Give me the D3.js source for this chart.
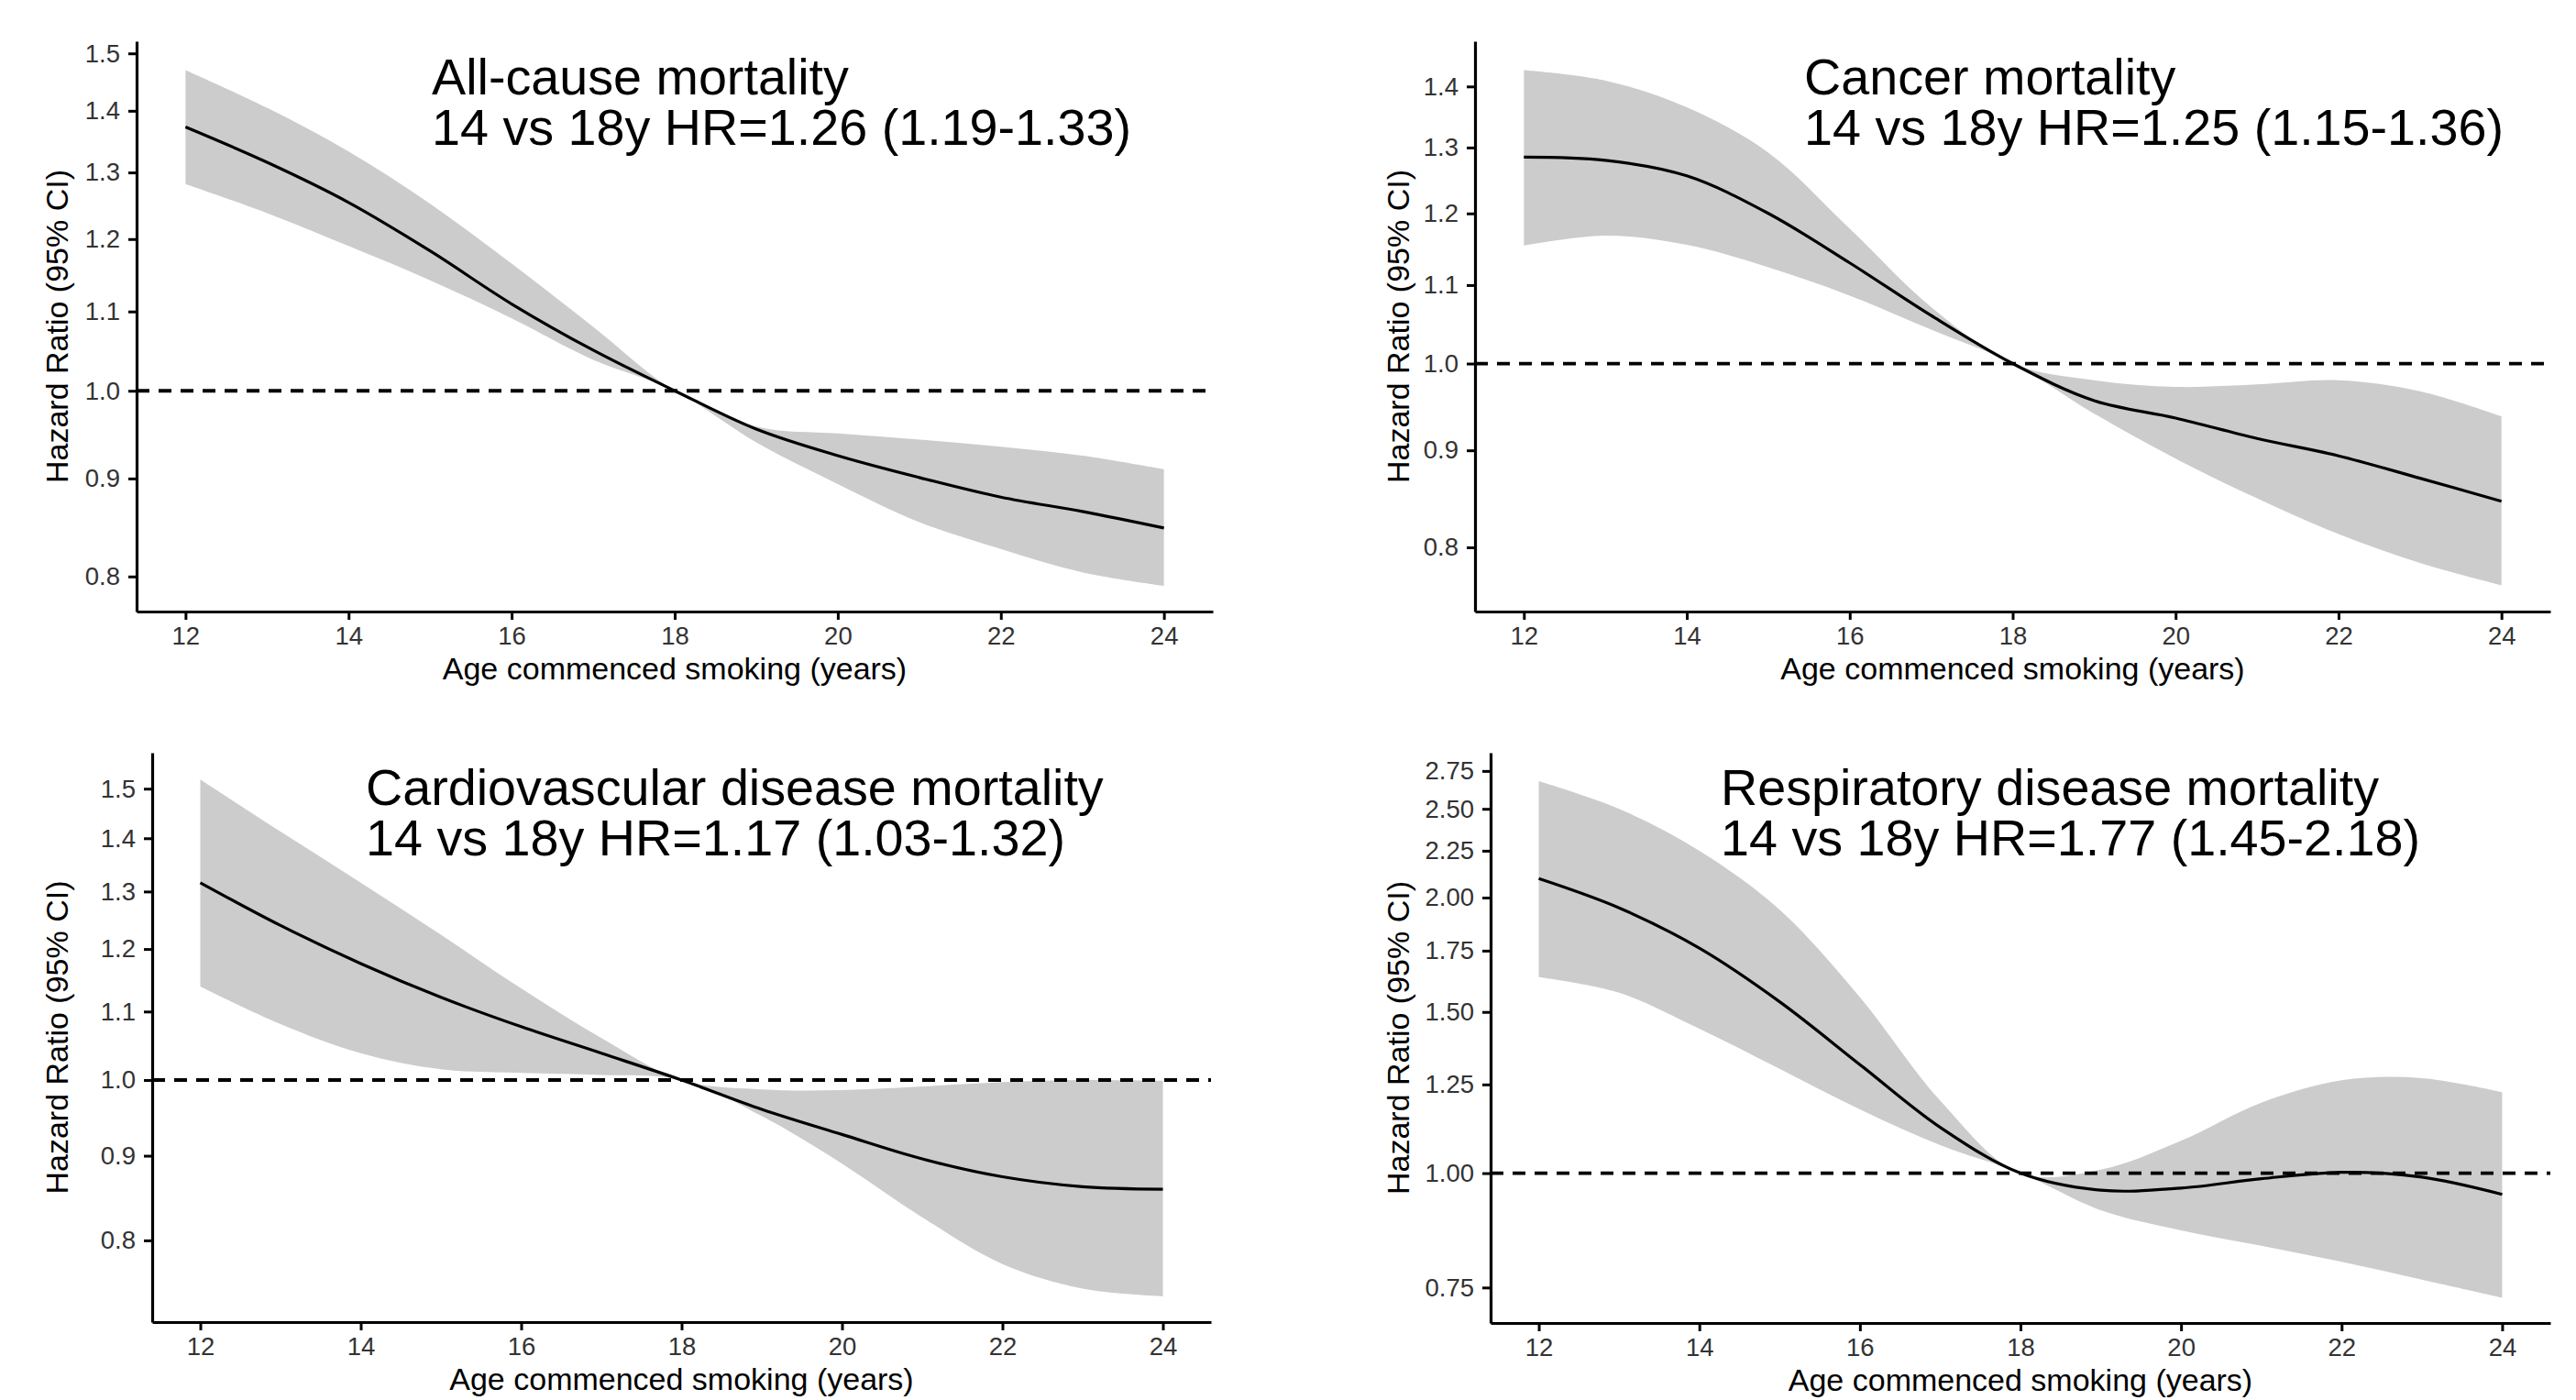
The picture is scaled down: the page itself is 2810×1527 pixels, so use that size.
<!DOCTYPE html>
<html>
<head>
<meta charset="utf-8">
<script src="https://cdn.jsdelivr.net/npm/d3@7"></script>
<style>
  body { margin: 0; background: #fff; }
  text { font-family: "Liberation Sans", Arial, sans-serif; }
</style>
</head>
<body>
<svg width="2810" height="1527"></svg>
<script>
// ages on the x axis
var ages = [12, 13, 14, 15, 16, 17, 18, 19, 20, 21, 22, 23, 24];
var xTicks = [12, 14, 16, 18, 20, 22, 24];

// all-cause mortality
var allMean  = [1.373, 1.316, 1.254, 1.183, 1.110, 1.050, 1.0, 0.955, 0.925, 0.901, 0.880, 0.865, 0.848];
var allUpper = [1.470, 1.405, 1.333, 1.252, 1.165, 1.080, 1.0, 0.958, 0.950, 0.943, 0.935, 0.925, 0.910];
var allLower = [1.282, 1.238, 1.190, 1.142, 1.091, 1.038, 1.0, 0.940, 0.894, 0.854, 0.827, 0.804, 0.791];

// cancer mortality
var canMean  = [1.285, 1.280, 1.256, 1.200, 1.130, 1.060, 1.0, 0.956, 0.936, 0.913, 0.894, 0.870, 0.846];
var canUpper = [1.428, 1.410, 1.365, 1.292, 1.178, 1.071, 1.0, 0.980, 0.972, 0.975, 0.980, 0.967, 0.938];
var canLower = [1.154, 1.168, 1.155, 1.124, 1.086, 1.042, 1.0, 0.941, 0.891, 0.849, 0.813, 0.785, 0.764];

// cardiovascular disease mortality
var cvdMean  = [1.316, 1.240, 1.176, 1.122, 1.077, 1.038, 1.0, 0.960, 0.927, 0.896, 0.874, 0.862, 0.859];
var cvdUpper = [1.519, 1.413, 1.316, 1.224, 1.136, 1.060, 1.0, 0.987, 0.986, 0.991, 0.997, 1.000, 0.999];
var cvdLower = [1.139, 1.081, 1.038, 1.015, 1.010, 1.007, 1.0, 0.951, 0.890, 0.826, 0.774, 0.748, 0.740];

// respiratory disease mortality
var resMean  = [2.098, 1.949, 1.761, 1.539, 1.314, 1.122, 1.0, 0.958, 0.963, 0.986, 1.002, 0.990, 0.948];
var resUpper = [2.680, 2.500, 2.250, 1.940, 1.556, 1.200, 1.0, 1.009, 1.085, 1.194, 1.263, 1.270, 1.226];
var resLower = [1.637, 1.574, 1.438, 1.300, 1.174, 1.073, 1.0, 0.911, 0.866, 0.833, 0.800, 0.765, 0.731];

var titles = ["All-cause mortality", "Cancer mortality",
              "Cardiovascular disease mortality", "Respiratory disease mortality"];
var hrLabels = ["14 vs 18y HR=1.26 (1.19-1.33)", "14 vs 18y HR=1.25 (1.15-1.36)",
                "14 vs 18y HR=1.17 (1.03-1.32)", "14 vs 18y HR=1.77 (1.45-2.18)"];

var yTicks1 = [0.8, 0.9, 1.0, 1.1, 1.2, 1.3, 1.4, 1.5];
var yTicks2 = [0.8, 0.9, 1.0, 1.1, 1.2, 1.3, 1.4];
var yTicks3 = [0.8, 0.9, 1.0, 1.1, 1.2, 1.3, 1.4, 1.5];
var yTicks4 = [0.75, 1.00, 1.25, 1.50, 1.75, 2.00, 2.25, 2.50, 2.75];

var yDomain1 = [0.767, 1.522];
var yDomain2 = [0.740, 1.479];
var yDomain3 = [0.714, 1.577];
var yDomain4 = [0.686, 2.879];

var svg = d3.select("svg");

// panel boxes (pixels)
var panels = [
  { mean: allMean, up: allUpper, lo: allLower, ticks: yTicks1, dom: yDomain1, fmt: ".1f",
    l: 149, r: 1323, t: 45, b: 667, ytx: 74, tx: 471, ty: 103 },
  { mean: canMean, up: canUpper, lo: canLower, ticks: yTicks2, dom: yDomain2, fmt: ".1f",
    l: 1609, r: 2782, t: 45, b: 667, ytx: 1537, tx: 1968, ty: 103 },
  { mean: cvdMean, up: cvdUpper, lo: cvdLower, ticks: yTicks3, dom: yDomain3, fmt: ".1f",
    l: 166, r: 1321, t: 821, b: 1442, ytx: 74, tx: 399, ty: 878 },
  { mean: resMean, up: resUpper, lo: resLower, ticks: yTicks4, dom: yDomain4, fmt: ".2f",
    l: 1626, r: 2782, t: 821, b: 1443, ytx: 1537, tx: 1877, ty: 878 }
];

panels.forEach(function (p, i) {
    var x = d3.scaleLinear().domain([11.4, 24.6]).range([p.l, p.r]);
    var y = d3.scaleLog().domain(p.dom).range([p.b, p.t]);

    var rows = ages.map(function (a, k) {
        return { age: a, m: p.mean[k], u: p.up[k], lo: p.lo[k] };
    });

    var g = svg.append("g");

    // confidence band
    g.append("path")
        .datum(rows)
        .attr("d", d3.area()
            .x(function (d) { return x(d.age); })
            .y0(function (d) { return y(d.lo); })
            .y1(function (d) { return y(d.u); })
            .curve(d3.curveCatmullRom))
        .style("fill", "#cccccc")
        .style("stroke", "none");

    // reference line at HR = 1
    g.append("line")
        .attr("x1", p.l).attr("x2", p.r)
        .attr("y1", y(1)).attr("y2", y(1))
        .style("stroke", "#000")
        .style("stroke-width", 3.8)
        .style("stroke-dasharray", "14,10");

    // fitted curve
    g.append("path")
        .datum(rows)
        .attr("d", d3.line()
            .x(function (d) { return x(d.age); })
            .y(function (d) { return y(d.m); })
            .curve(d3.curveCatmullRom))
        .style("fill", "none")
        .style("stroke", "#000")
        .style("stroke-width", 3.2);

    // axes
    var ya = g.append("g")
        .attr("transform", "translate(" + p.l + ",0)")
        .call(d3.axisLeft(y).tickValues(p.ticks).tickFormat(d3.format(p.fmt))
            .tickSize(9).tickSizeOuter(0).tickPadding(9));
    var xa = g.append("g")
        .attr("transform", "translate(0," + p.b + ")")
        .call(d3.axisBottom(x).tickValues(xTicks).tickFormat(d3.format("d"))
            .tickSize(9).tickSizeOuter(0).tickPadding(7));

    [ya, xa].forEach(function (a) {
        a.select(".domain").style("stroke", "#000").style("stroke-width", 3.2);
        a.selectAll(".tick line").style("stroke", "#000").style("stroke-width", 3);
        a.selectAll(".tick text")
            .style("font-family", "'Liberation Sans', Arial, sans-serif")
            .style("font-size", "27.5px")
            .style("fill", "#333");
    });

    // axis titles
    g.append("text")
        .attr("x", (p.l + p.r) / 2)
        .attr("y", p.b + 74)
        .attr("text-anchor", "middle")
        .style("font-size", "34px")
        .text("Age commenced smoking (years)");

    g.append("text")
        .attr("transform", "translate(" + p.ytx + "," + (p.t + p.b) / 2 + ") rotate(-90)")
        .attr("text-anchor", "middle")
        .style("font-size", "34px")
        .text("Hazard Ratio (95% CI)");

    // panel title, two lines
    var tt = g.append("text")
        .attr("x", p.tx).attr("y", p.ty)
        .style("font-size", "55.7px");
    tt.append("tspan").attr("x", p.tx).attr("y", p.ty).text(titles[i]);
    tt.append("tspan").attr("x", p.tx).attr("y", p.ty + 55).text(hrLabels[i]);
});
</script>
</body>
</html>
